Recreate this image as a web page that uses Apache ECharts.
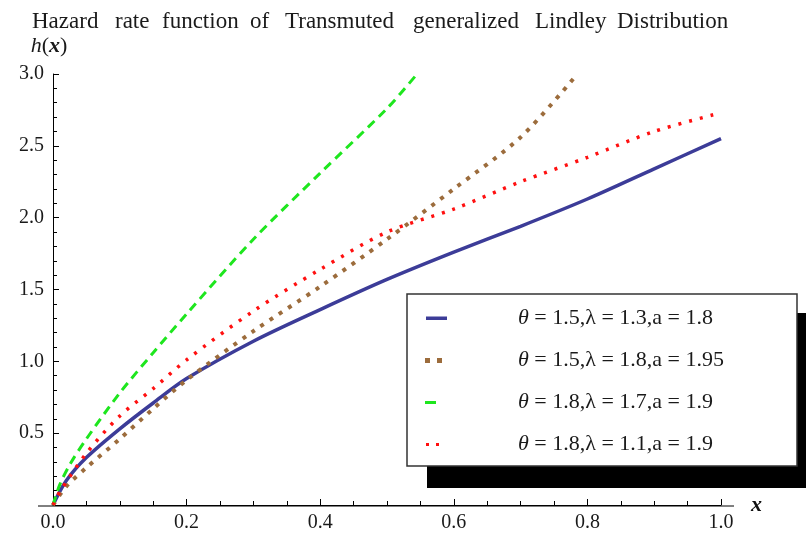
<!DOCTYPE html>
<html>
<head>
<meta charset="utf-8">
<script src="https://cdn.jsdelivr.net/npm/echarts@6/dist/echarts.min.js"></script>
<style>
html, body { margin: 0; padding: 0; background: #fff; }
#main { width: 806px; height: 533px; }
</style>
</head>
<body>
<div id="main"></div>
<script>
// 曲线数据
var seriesNames = [
    'θ = 1.5,λ = 1.3,a = 1.8',
    'θ = 1.5,λ = 1.8,a = 1.95',
    'θ = 1.8,λ = 1.7,a = 1.9',
    'θ = 1.8,λ = 1.1,a = 1.9'
];
var blueX  = [0, 0.02, 0.05, 0.1, 0.15, 0.2, 0.3, 0.4, 0.5, 0.6, 0.7, 0.8, 0.9, 1.0];
var blueY  = [0, 0.17, 0.33, 0.53, 0.71, 0.88, 1.14, 1.36, 1.57, 1.76, 1.94, 2.13, 2.34, 2.55];
var brownX = [0, 0.02, 0.05, 0.1, 0.15, 0.2, 0.3, 0.4, 0.5, 0.6, 0.7, 0.785];
var brownY = [0, 0.13, 0.26, 0.46, 0.67, 0.87, 1.21, 1.52, 1.85, 2.2, 2.56, 3.0];
var greenX = [0, 0.01, 0.025, 0.05, 0.1, 0.15, 0.2, 0.3, 0.4, 0.5, 0.545];
var greenY = [0, 0.14, 0.28, 0.46, 0.78, 1.06, 1.33, 1.85, 2.31, 2.76, 3.0];
var redX   = [0, 0.01, 0.05, 0.1, 0.15, 0.2, 0.3, 0.4, 0.5, 0.6, 0.7, 0.8, 0.9, 1.0];
var redY   = [0, 0.09, 0.36, 0.62, 0.81, 1.01, 1.35, 1.64, 1.9, 2.06, 2.25, 2.42, 2.6, 2.73];
var xTicks = [0, 0.2, 0.4, 0.6, 0.8, 1.0];
var yTicks = [0.5, 1.0, 1.5, 2.0, 2.5, 3.0];
var titleWords = ['Hazard', 'rate', 'function', 'of', 'Transmuted', 'generalized', 'Lindley', 'Distribution'];

var serif = "'Liberation Serif', 'DejaVu Serif', serif";
var ink = '#1a1a1a';

function pairs(xs, ys) {
    return xs.map(function (x, i) { return [x, ys[i]]; });
}

// 标题每个词的占位宽度（原图词距很宽）
var wordWidths = [83, 47, 88, 35, 128, 122, 82, 0];
var titleRich = {};
var titleText = titleWords.map(function (w, i) {
    titleRich['w' + i] = wordWidths[i] ? { width: wordWidths[i] } : {};
    return '{w' + i + '|' + w + '}';
}).join('');

var myChart = echarts.init(document.getElementById('main'));

var gridL = 53, gridR = 85, gridT = 74, gridB = 27;
var axisY = 533 - gridB;

var option = {
    animation: false,
    title: {
        text: titleText,
        left: 27,
        top: 5,
        textStyle: { fontFamily: serif, fontWeight: 'normal', fontSize: 23, color: ink, rich: titleRich }
    },
    grid: { left: gridL, right: gridR, top: gridT, bottom: gridB },
    xAxis: {
        type: 'value',
        min: 0,
        max: 1,
        interval: 0.2,
        name: 'x',
        nameLocation: 'end',
        nameGap: 30,
        nameTextStyle: { fontFamily: serif, fontStyle: 'italic', fontWeight: 'bold', fontSize: 22, color: '#111', verticalAlign: 'middle', padding: [12, 0, 0, 0] },
        axisLine: { lineStyle: { color: '#000', width: 1 } },
        axisTick: { inside: true, length: 6, lineStyle: { color: '#000' } },
        minorTick: { show: true, splitNumber: 4, length: 4, lineStyle: { color: '#000' } },
        splitLine: { show: false },
        axisLabel: {
            margin: 8,
            fontFamily: serif, fontSize: 20, color: ink,
            formatter: function (v) { return xTicks.indexOf(v) >= 0 ? v.toFixed(1) : ''; }
        }
    },
    yAxis: {
        type: 'value',
        min: 0,
        max: 3,
        interval: 0.5,
        name: '{i|h}({b|x})',
        nameLocation: 'end',
        nameGap: 17,
        nameTextStyle: {
            fontFamily: serif, fontSize: 22, color: ink, align: 'center', padding: [0, 0, 0, -8],
            rich: {
                i: { fontFamily: serif, fontStyle: 'italic', fontSize: 22, color: ink },
                b: { fontFamily: serif, fontStyle: 'italic', fontWeight: 'bold', fontSize: 22, color: ink }
            }
        },
        axisLine: { lineStyle: { color: '#000', width: 1 } },
        axisTick: { inside: true, length: 6, lineStyle: { color: '#000' } },
        minorTick: { show: true, splitNumber: 5, length: 4, lineStyle: { color: '#000' } },
        splitLine: { show: false },
        axisLabel: {
            margin: 9,
            fontFamily: serif, fontSize: 20, color: ink,
            formatter: function (v) { return yTicks.indexOf(v) >= 0 ? v.toFixed(1) : ''; }
        }
    },
    legend: {
        orient: 'vertical',
        left: 420,
        top: 302,
        itemWidth: 22,
        itemHeight: 10,
        itemGap: 20,
        z: 10,
        symbolKeepAspect: false,
        data: [
            { name: seriesNames[0], icon: 'path://M0,0M22,10M1,3.5H22V7H1Z' },
            { name: seriesNames[1], icon: 'path://M0,0M22,10M0,3H5V8H0ZM12,3H17V8H12Z' },
            { name: seriesNames[2], icon: 'path://M0,0M22,10M0,4H11V7H0Z' },
            { name: seriesNames[3], icon: 'path://M0,0M22,10M1,4H4V7H1ZM11,4H14V7H11Z' }
        ],
        formatter: function (name) { return '{th|θ}' + name.slice(1); },
        textStyle: {
            fontFamily: serif, fontSize: 22, color: ink,
            padding: [0, 0, 0, 66],
            rich: { th: { fontFamily: serif, fontStyle: 'italic', fontSize: 22, color: ink } }
        }
    },
    graphic: [
        // 坐标轴延长段
        { type: 'line', z: 1, shape: { x1: 38, y1: axisY, x2: 734, y2: axisY }, style: { stroke: '#000', lineWidth: 1 } },
        // 图例阴影和边框
        { type: 'rect', z: 5, shape: { x: 427, y: 313, width: 380, height: 175 }, style: { fill: '#000' } },
        { type: 'rect', z: 6, shape: { x: 407, y: 294, width: 390, height: 172 }, style: { fill: '#fff', stroke: '#333', lineWidth: 1.5 } }
    ],
    series: [
        {
            name: seriesNames[0], type: 'line', smooth: 0.3, showSymbol: false, symbol: 'none',
            data: pairs(blueX, blueY),
            lineStyle: { color: '#3c3c98', width: 3.5 },
            itemStyle: { color: '#3c3c98' }
        },
        {
            name: seriesNames[1], type: 'line', smooth: 0.3, showSymbol: false, symbol: 'none',
            data: pairs(brownX, brownY),
            lineStyle: { color: '#9c6c3c', width: 4, type: [4, 7] },
            itemStyle: { color: '#9c6c3c' }
        },
        {
            name: seriesNames[2], type: 'line', smooth: 0.3, showSymbol: false, symbol: 'none',
            data: pairs(greenX, greenY),
            lineStyle: { color: '#1ee61e', width: 3, type: [9, 6] },
            itemStyle: { color: '#1ee61e' }
        },
        {
            name: seriesNames[3], type: 'line', smooth: 0.3, showSymbol: false, symbol: 'none',
            data: pairs(redX, redY),
            lineStyle: { color: '#ff1010', width: 3.5, type: [3, 8] },
            itemStyle: { color: '#ff1010' }
        }
    ]
};
myChart.setOption(option);
</script>
</body>
</html>
